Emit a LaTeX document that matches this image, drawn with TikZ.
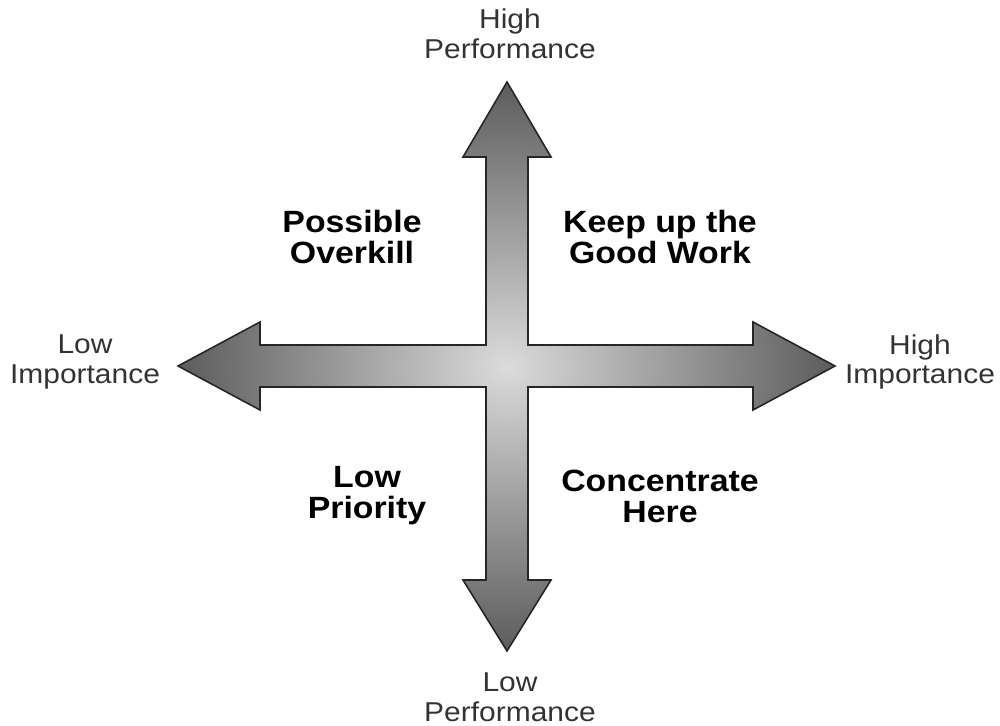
\documentclass[tikz,border=0pt]{standalone}
\usepackage{fontspec}
\setmainfont[FakeStretch=1.1]{Liberation Sans}
\usetikzlibrary{positioning}

\begin{document}
\begin{tikzpicture}[x=0.2mm, y=-0.2mm,
    axis/.style={align=center, text=black!80, font=\fontsize{15.5}{17}\selectfont},
    quad/.style={align=center, font=\fontsize{17.5}{17.6}\selectfont\bfseries}]
    \useasboundingbox (0,0) rectangle (1000,726);
    % the cross of four arrows
    \shade[inner color=black!14, outer color=black!64, draw=black!85, line width=0.9pt, line join=miter]
        (486,345) -- (486,157) -- (463,157) -- (507,82) -- (551,157) -- (528,157)
        -- (528,345) -- (753,345) -- (753,322) -- (835,366) -- (753,410) -- (753,387)
        -- (528,387) -- (528,580) -- (551,580) -- (507,651) -- (463,580) -- (486,580)
        -- (486,387) -- (260,387) -- (260,410) -- (178,366) -- (260,322) -- (260,345) -- cycle;
    % axis ends
    \node[axis] (hp) at (510,34) {High\\Performance};
    \node[axis] (lp) at (510,697) {Low\\Performance};
    \node[axis] (li) at (85,362) {Low\\Importance};
    \node[axis] (hi) at (920,362) {High\\Importance};
    % quadrants
    \node[quad] (po) at (352,237) {Possible\\Overkill};
    \node[quad] (kg) at (660,237) {Keep up the\\Good Work};
    \node[quad] (lo) at (367,496) {Low\\Priority};
    \node[quad] (ch) at (660,496) {Concentrate\\Here};
\end{tikzpicture}
\end{document}
